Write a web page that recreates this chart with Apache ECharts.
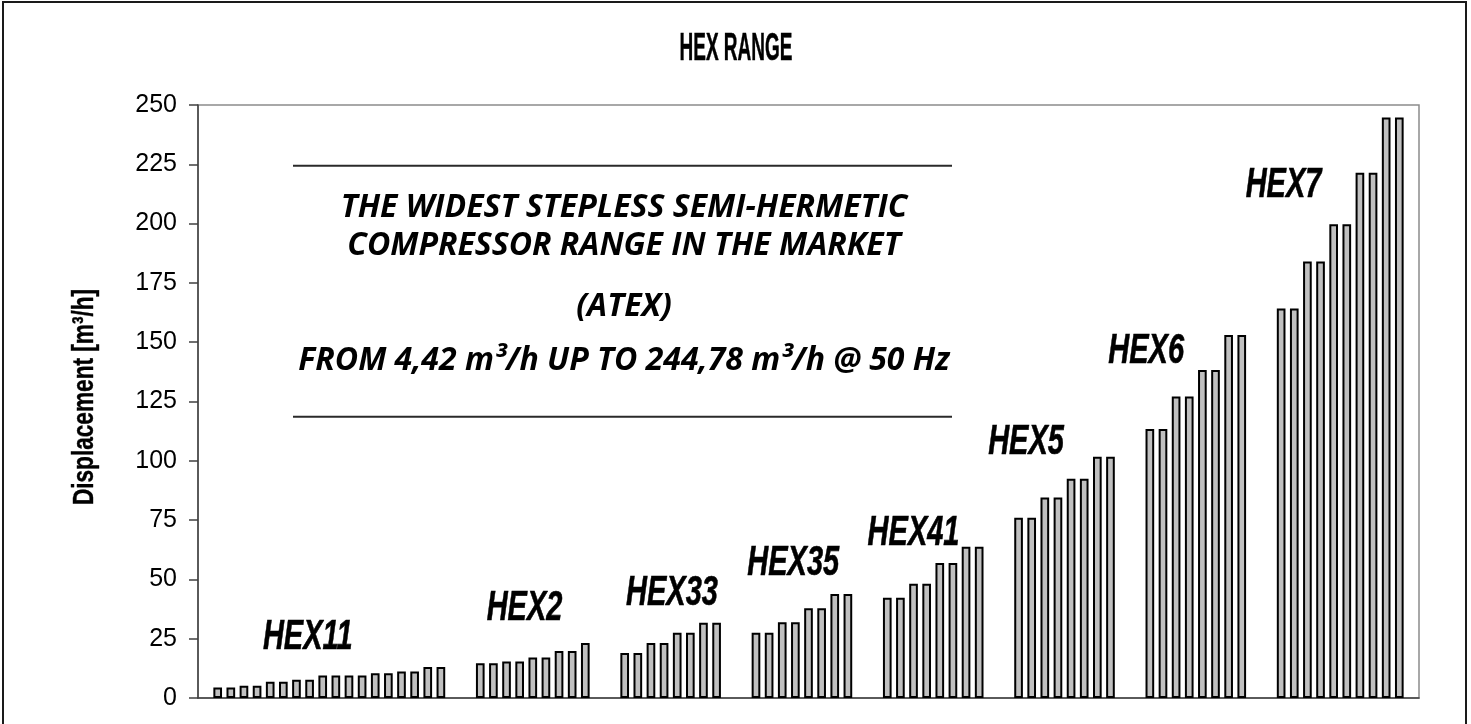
<!DOCTYPE html>
<html><head><meta charset="utf-8">
<script src="https://cdn.jsdelivr.net/npm/echarts@6/dist/echarts.min.js"></script>
<style>html,body{margin:0;padding:0;background:#fff}#c{width:1471px;height:724px}</style>
</head><body><div id="c"></div>
<script>
// ---- data ----
const groupNames = ['HEX11','HEX2','HEX33','HEX35','HEX41','HEX5','HEX6','HEX7'];
const hex11 = [4.42,4.42,5.2,5.2,6.9,6.9,7.7,7.7,9.5,9.5,9.5,9.5,10.4,10.4,11.2,11.2,13.1,13.1];
const hex2  = [14.6,14.6,15.4,15.4,17.1,17.1,19.8,19.8,23.2];
const hex33 = [19.0,19.0,23.2,23.2,27.5,27.5,31.7,31.7];
const hex35 = [27.5,27.5,31.9,31.9,37.8,37.8,43.8,43.8];
const hex41 = [42.3,42.3,48.2,48.2,56.9,56.9,63.8,63.8];
const hex5  = [76.0,76.0,84.5,84.5,92.4,92.4,101.7,101.7];
const hex6  = [113.4,113.4,127.1,127.1,138.3,138.3,153.0,153.0];
const hex7  = [164.2,164.2,184.0,184.0,199.7,199.7,221.4,221.4,244.78,244.78];
const yTickLabels = [0,25,50,75,100,125,150,175,200,225,250];
// group label anchors in data units (category index, value)
const groupLabelCat = [7.86, 24.37, 35.6, 44.84, 54.0, 62.57, 71.72, 82.18];
const groupLabelVal = [25.4, 37.9, 44.2, 56.9, 69.5, 107.6, 146.1, 216.2];
const titleText = 'HEX RANGE';
const axisNameText = 'Displacement [m\u00B3/h]';
const noteLines = [
  'THE WIDEST STEPLESS SEMI-HERMETIC',
  'COMPRESSOR RANGE IN THE MARKET',
  '(ATEX)',
  'FROM 4,42 m\u00B3/h UP TO 244,78 m\u00B3/h @ 50 Hz'
];

// ---- build category table ----
const groupValues = [hex11, hex2, hex33, hex35, hex41, hex5, hex6, hex7];
const categories = [], values = [];
let gapCount = 0;
function addGap(){ categories.push('gap' + (gapCount++)); values.push(null); }
addGap();
groupValues.forEach((arr, gi) => {
  if (gi > 0) { addGap(); addGap(); }
  arr.forEach((v, i) => { categories.push(groupNames[gi] + ' #' + (i + 1)); values.push(v); });
});
addGap();

const chart = echarts.init(document.getElementById('c'), null, {renderer: 'canvas'});
const axisColor = '#404040';
chart.setOption({
  animation: false,
  backgroundColor: '#fff',
  grid: {left: 198, right: 52, top: 105, bottom: 26, show: true, borderColor: '#8c8c8c', borderWidth: 1.5, containLabel: false},
  xAxis: {
    type: 'category', data: categories,
    axisLine: {show: true, lineStyle: {color: axisColor, width: 1.5}},
    axisTick: {show: false}, axisLabel: {show: false}, splitLine: {show: false}
  },
  yAxis: {
    type: 'value', min: yTickLabels[0], max: yTickLabels[yTickLabels.length - 1], interval: 25,
    axisLine: {show: true, lineStyle: {color: axisColor, width: 1.5}},
    axisTick: {show: true, length: 9, lineStyle: {color: axisColor, width: 1.5}},
    axisLabel: {fontSize: 25, fontFamily: '"Liberation Sans", Arial, sans-serif', color: '#000', margin: 21},
    splitLine: {show: false}
  },
  series: [{
    type: 'bar', data: values, barWidth: '66%',
    itemStyle: {color: '#c0c0c0', borderColor: '#000', borderWidth: 2}
  }]
});

// ---- annotations ----
const c0 = chart.convertToPixel({xAxisIndex: 0}, 0);
const c1 = chart.convertToPixel({xAxisIndex: 0}, 1);
const slot = c1 - c0;
const condensed = '"Liberation Sans", Arial, sans-serif';
const graphics = [];
groupNames.forEach((name, i) => {
  graphics.push({
    type: 'text', x: c0 + groupLabelCat[i] * slot,
    y: chart.convertToPixel({yAxisIndex: 0}, groupLabelVal[i]),
    scaleX: 0.69,
    style: {text: name, font: 'italic bold 42px ' + condensed,
      fill: '#000', stroke: '#000', lineWidth: 0.6, align: 'center', verticalAlign: 'middle'}
  });
});
graphics.push({
  type: 'text', x: 736, y: 50, scaleX: 0.5,
  style: {text: titleText, font: 'bold 38px ' + condensed,
    fill: '#000', stroke: '#000', lineWidth: 0.5, align: 'center', verticalAlign: 'middle'}
});
graphics.push({
  type: 'text', x: 85, y: 397, rotation: Math.PI / 2, scaleX: 0.78,
  style: {text: axisNameText, font: 'bold 29px ' + condensed,
    fill: '#000', stroke: '#000', lineWidth: 0.4, align: 'center', verticalAlign: 'middle'}
});
const noteY = [208, 246, 306.7, 361];
noteLines.forEach((t, i) => {
  graphics.push({
    type: 'text', x: 624, y: noteY[i],
    style: {text: t, font: 'italic bold 32px "Open Sans", sans-serif', fill: '#000', align: 'center', verticalAlign: 'middle'}
  });
});
[165.7, 416.7].forEach(y => {
  graphics.push({type: 'line', shape: {x1: 293, y1: y, x2: 952, y2: y}, style: {stroke: '#2a2a2a', lineWidth: 2}});
});
graphics.push({type: 'rect', shape: {x: 3, y: 2, width: 1463, height: 740}, style: {fill: 'none', stroke: '#1a1a1a', lineWidth: 2}});
chart.setOption({graphic: graphics});
</script>
</body></html>
